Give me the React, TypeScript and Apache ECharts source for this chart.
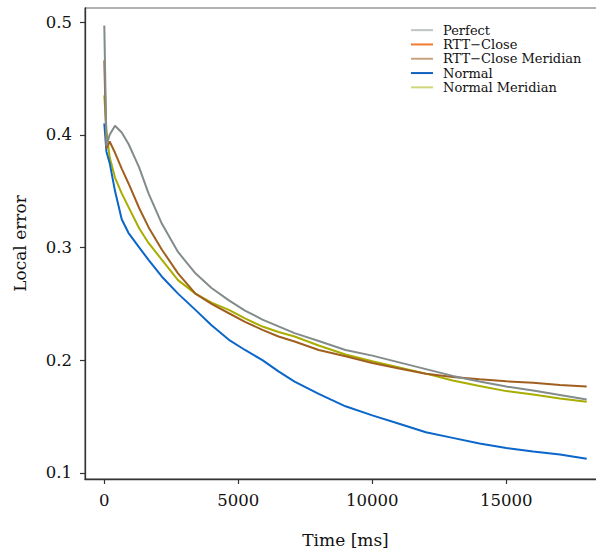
import React, { useEffect, useRef } from "react";
import * as echarts from "echarts";

const timeMs = [0, 80, 200, 400, 650, 900, 1300, 1650, 2150, 2750, 3400, 4000, 4650, 5250, 5900, 6500, 7100, 8000, 9000, 10000, 11000, 12000, 13000, 14000, 15000, 16000, 17000, 18000];

const perfect = [0.497, 0.39, 0.4, 0.408, 0.402, 0.392, 0.371, 0.348, 0.321, 0.296, 0.277, 0.264, 0.253, 0.244, 0.236, 0.23, 0.224, 0.217, 0.209, 0.204, 0.198, 0.192, 0.186, 0.181, 0.1765, 0.173, 0.169, 0.165];
const rttClose = [0.466, 0.388, 0.394, 0.384, 0.37, 0.357, 0.335, 0.318, 0.298, 0.277, 0.259, 0.25, 0.2416, 0.234, 0.2268, 0.221, 0.2165, 0.209, 0.2035, 0.1975, 0.1925, 0.188, 0.185, 0.183, 0.1812, 0.18, 0.178, 0.1765];
const rttCloseMeridian: number[] = [];
const normal = [0.41, 0.385, 0.375, 0.35, 0.325, 0.313, 0.3, 0.289, 0.274, 0.259, 0.2446, 0.231, 0.218, 0.209, 0.2, 0.19, 0.181, 0.17, 0.159, 0.151, 0.1435, 0.136, 0.131, 0.126, 0.122, 0.119, 0.1163, 0.1125];
const normalMeridian = [0.435, 0.404, 0.38, 0.362, 0.348, 0.336, 0.317, 0.304, 0.289, 0.271, 0.259, 0.251, 0.2446, 0.237, 0.2298, 0.225, 0.221, 0.213, 0.205, 0.199, 0.1935, 0.188, 0.182, 0.177, 0.1725, 0.1695, 0.166, 0.163];

const seriesNames = ["Perfect", "RTT\u2212Close", "RTT\u2212Close Meridian", "Normal", "Normal Meridian"];
const seriesValues = [perfect, rttClose, rttCloseMeridian, normal, normalMeridian];
const lineColors = ["#838b8b", "#a05f1e", "#b08a60", "#0a66c8", "#a8ad00"];
const legendColors = ["#c0c4c4", "#f07a30", "#c8a27e", "#1060c0", "#d0d67a"];

const xTicks = [0, 5000, 10000, 15000];
const yTicks = [0.1, 0.2, 0.3, 0.4, 0.5];

const FONT = "DejaVu Serif";

export default function App() {
  const ref = useRef<HTMLDivElement>(null);
  useEffect(() => {
    document.body.style.margin = "0";
    const chart = echarts.init(ref.current!, null, { renderer: "svg" });
    const series = seriesNames.map((name, i) => ({
      name,
      type: "line",
      data: seriesValues[i].map((v, j) => [timeMs[j], v]),
      showSymbol: false,
      symbol: "none",
      lineStyle: { color: lineColors[i], width: 2 },
      itemStyle: { color: lineColors[i] },
      z: 5 - i,
    }));
    chart.setOption({
      animation: false,
      backgroundColor: "#ffffff",
      textStyle: { fontFamily: FONT },
      grid: {
        left: 85,
        top: 8,
        width: 521,
        height: 471,
        containLabel: false,
        outerBoundsMode: "none",
        show: true,
        borderColor: "#666",
        borderWidth: 1.2,
        backgroundColor: "transparent",
      },
      legend: {
        orient: "vertical",
        left: 406,
        top: 18,
        itemWidth: 22,
        itemHeight: 2,
        itemGap: 0,
        icon: "rect",
        textStyle: { fontFamily: FONT, fontSize: 13, color: "#111", lineHeight: 14.3, padding: [0, 0, 0, 5] },
        data: seriesNames.map((name, i) => ({ name, itemStyle: { color: legendColors[i] } })),
      },
      xAxis: {
        type: "value",
        min: -720,
        max: 18720,
        name: "Time [ms]",
        nameLocation: "middle",
        nameGap: 52,
        nameTextStyle: { fontFamily: FONT, fontSize: 17, color: "#111" },
        axisLine: { show: true, onZero: false, lineStyle: { color: "#333", width: 1.3 } },
        axisTick: { show: true, length: 5, inside: false, customValues: xTicks, lineStyle: { color: "#333", width: 1.2 } },
        axisLabel: { customValues: xTicks, margin: 13, fontFamily: FONT, fontSize: 16.5, color: "#111", formatter: (v: number) => String(v) },
        splitLine: { show: false },
      },
      yAxis: {
        type: "value",
        min: 0.0945,
        max: 0.5125,
        name: "Local error",
        nameLocation: "middle",
        nameGap: 57,
        nameTextStyle: { fontFamily: FONT, fontSize: 17, color: "#111" },
        axisLine: { show: true, onZero: false, lineStyle: { color: "#333", width: 1.3 } },
        axisTick: { show: true, length: 5, inside: false, customValues: yTicks, lineStyle: { color: "#333", width: 1.2 } },
        axisLabel: { customValues: yTicks, margin: 13, fontFamily: FONT, fontSize: 16.5, color: "#111", formatter: (v: number) => v.toFixed(1) },
        splitLine: { show: false },
      },
      series,
    });
    return () => chart.dispose();
  }, []);
  return <div ref={ref} style={{ width: 596, height: 552 }} />;
}
